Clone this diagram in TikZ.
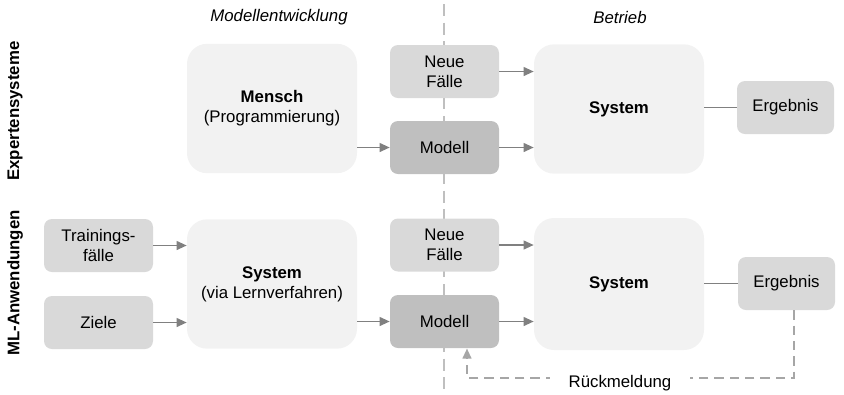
\documentclass[tikz,border=0pt]{standalone}
\usepackage{fontspec}
\setmainfont{Liberation Sans}
\usetikzlibrary{arrows.meta}
\definecolor{bigfill}{HTML}{F2F2F2}
\definecolor{midfill}{HTML}{D9D9D9}
\definecolor{modfill}{HTML}{BFBFBF}
\definecolor{arrowgray}{HTML}{808080}
\definecolor{dashgray}{HTML}{BFBFBF}
\definecolor{fbgray}{HTML}{A6A6A6}
\begin{document}
\begin{tikzpicture}[x=0.75pt,y=-0.75pt,
  every node/.style={font=\fontsize{12.6}{14.8}\selectfont, inner sep=0pt, align=center},
  bigbox/.style={fill=bigfill, rounded corners=15pt, minimum width=127.5pt, minimum height=97pt},
  smallbox/.style={fill=midfill, rounded corners=6pt, minimum width=81.75pt, minimum height=39.75pt},
  modbox/.style={smallbox, fill=modfill},
  conn/.style={draw=arrowgray, line width=1.4pt, -{Triangle[length=7.5pt,width=6.5pt]}},
  plainconn/.style={draw=arrowgray, line width=1.4pt},
  fbconn/.style={draw=fbgray, line width=1.4pt, dash pattern=on 7pt off 4.5pt, -{Triangle[length=7.5pt,width=6.5pt]}},
  header/.style={font=\fontsize{12.6}{14.8}\selectfont\itshape},
  side/.style={font=\fontsize{12.6}{14.8}\selectfont\bfseries, rotate=90}
]
\useasboundingbox (0,0) rectangle (844,394);
% phase divider
\coordinate (divtop) at (444,4);
\coordinate (divbot) at (444,394);
\draw[dashgray, line width=1.3pt, dash pattern=on 9pt off 5pt] (divtop) -- (divbot);
% headers
\node[header] (hmod) at (279,17) {Modellentwicklung};
\node[header] (hbet) at (620,17) {Betrieb};
\node[side] (lexp) at (15,111) {Expertensysteme};
\node[side] (lml) at (15,283) {ML-Anwendungen};
% top row
\node[bigbox] (mensch) at (272,108.5) {\textbf{Mensch}\\(Programmierung)};
\node[smallbox] (neu1) at (444.5,71.5) {Neue\\Fälle};
\node[modbox] (mod1) at (444.5,147.5) {Modell};
\node[bigbox] (sys1) at (619,109) {\textbf{System}};
\node[smallbox, minimum width=72.75pt] (erg1) at (785.5,107.5) {Ergebnis};
% bottom row
\node[smallbox] (train) at (98.5,245.5) {Trainings-\\fälle};
\node[smallbox] (ziele) at (98.5,322.5) {Ziele};
\node[bigbox] (sys2) at (272,284) {\textbf{System}\\(via Lernverfahren)};
\node[smallbox] (neu2) at (444.5,245) {Neue\\Fälle};
\node[modbox] (mod2) at (444.5,321.5) {Modell};
\node[bigbox, minimum height=99pt] (sys3) at (619,284) {\textbf{System}};
\node[smallbox, minimum width=72.75pt] (erg2) at (786.5,283.5) {Ergebnis};
% top connectors
\draw[conn] (mod1.west -| mensch.east) -- (mod1.west);
\draw[conn] (neu1.east) -- (neu1.east -| sys1.west);
\draw[conn] (mod1.east) -- (mod1.east -| sys1.west);
\draw[plainconn] (erg1.west -| sys1.east) -- (erg1.west);
% bottom connectors
\draw[conn] (train.east) -- (train.east -| sys2.west);
\draw[conn] (ziele.east) -- (ziele.east -| sys2.west);
\draw[conn] (mod2.west -| sys2.east) -- (mod2.west);
\draw[conn] (neu2.east) -- (neu2.east -| sys3.west);
\draw[conn] (mod2.east) -- (mod2.east -| sys3.west);
\draw[plainconn] (erg2.west -| sys3.east) -- (erg2.west);
% feedback
\coordinate (fbend) at (467,348.5);
\coordinate (fbc1) at (794,378);
\coordinate (fbc2) at (467,378);
\draw[fbconn] (erg2.south -| fbc1) -- (fbc1) -- (fbc2) -- (fbend);
\node[fill=white, inner xsep=14pt, inner ysep=3pt] (rueck) at (620,383) {Rückmeldung};
\end{tikzpicture}
\end{document}
